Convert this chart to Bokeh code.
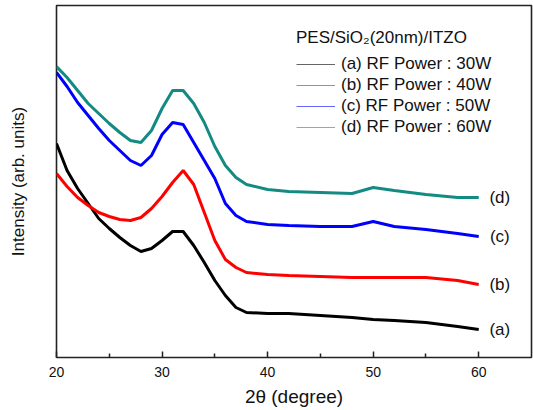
from bokeh.plotting import figure
from bokeh.models import ColumnDataSource, Legend, LegendItem, FixedTicker, Range1d
from bokeh.core.properties import value
from bokeh.embed import file_html
from bokeh.resources import INLINE

# 2-theta positions (degree) at which the curves were read
two_theta = [20, 21, 22, 23, 24, 25, 26, 27, 28, 29, 30, 31, 32, 33, 34, 35,
             36, 37, 38, 40, 42, 45, 48, 50, 52, 55, 58, 60]

# intensities (arbitrary units, stacked offsets as in the figure)
intensity_a = [214, 187, 169, 154, 139, 129, 120, 112, 106, 109, 117, 126, 126, 112,
               95, 77, 62, 50, 45, 44, 44, 42, 40, 38, 37, 35, 31, 28]
intensity_b = [184, 171, 160, 152, 145, 141, 138, 137, 140, 149, 161, 175, 187, 173,
               145, 117, 98, 90, 85, 83, 82, 81, 80, 80, 80, 80, 77, 73]
intensity_c = [285, 271, 255, 242, 229, 217, 207, 197, 192, 202, 223, 235, 233, 215,
               197, 179, 154, 142, 136, 133, 132, 131, 131, 136, 131, 128, 124, 121]
intensity_d = [291, 280, 267, 254, 244, 234, 225, 217, 215, 227, 249, 267, 267, 254,
               235, 211, 192, 180, 173, 168, 166, 165, 164, 170, 167, 163, 160, 160]

series_labels = ["(a) RF Power : 30W", "(b) RF Power : 40W",
                 "(c) RF Power : 50W", "(d) RF Power : 60W"]
curve_tags = ["(a)", "(b)", "(c)", "(d)"]
series_colors = ["#000000", "#ff0000", "#0000ff", "#138a82"]
legend_title = "PES/SiO\u2082(20nm)/ITZO"
x_major_ticks = [20, 30, 40, 50, 60]
x_minor_ticks = [25, 35, 45, 55]

FONT = "Liberation Sans"
NAN = float("nan")

p = figure(frame_width=475, frame_height=352,
           x_range=Range1d(20, 65), y_range=Range1d(0, 352),
           output_backend="svg", toolbar_location=None,
           min_border_left=56, min_border_right=2, min_border_top=5, min_border_bottom=52,
           background_fill_color="white", border_fill_color="white")

p.xgrid.visible = False
p.ygrid.visible = False
p.outline_line_color = "#222222"
p.outline_line_width = 1.6
p.outline_line_alpha = 1.0

all_series = [intensity_a, intensity_b, intensity_c, intensity_d]
legend_items = []
for ys, col, lab in zip(all_series, series_colors, series_labels):
    src = ColumnDataSource(dict(x=two_theta, y=ys))
    p.line("x", "y", source=src, line_color=col, line_width=3)
    # thin stand-in renderer (no visible data) used only for the legend swatch
    dummy = p.line(x=[NAN, NAN], y=[NAN, NAN], line_color=col, line_width=1.2, line_alpha=0.6)
    legend_items.append(LegendItem(label=lab, renderers=[dummy]))

# curve tags placed right of each curve's end
tag_src = ColumnDataSource(dict(
    x=[two_theta[-1] + 2.0] * 4,
    y=[s[-1] for s in all_series],
    t=curve_tags))
p.text("x", "y", text="t", source=tag_src, text_font=value(FONT),
       text_font_size="17px", text_align="center", text_baseline="middle",
       text_color="#111111")

legend = Legend(items=legend_items, location=(240, 220),
                title=legend_title, title_text_font=FONT, title_text_font_size="17px",
                title_text_font_style="normal", title_text_color="#111111", title_standoff=6,
                label_text_font=FONT, label_text_font_size="17px", label_text_color="#111111",
                glyph_width=39, glyph_height=20, label_height=20, label_standoff=6,
                spacing=1, padding=0, margin=0,
                border_line_color=None, background_fill_alpha=0)
p.add_layout(legend)

# x axis
xa = p.xaxis[0]
xa.ticker = FixedTicker(ticks=x_major_ticks, minor_ticks=x_minor_ticks)
xa.axis_label = "2\u03b8 (degree)"
xa.axis_label_text_font = FONT
xa.axis_label_text_font_size = "19px"
xa.axis_label_text_font_style = "normal"
xa.axis_label_text_color = "#111111"
xa.axis_label_standoff = 6
xa.major_label_text_font = FONT
xa.major_label_text_font_size = "14px"
xa.major_label_text_color = "#111111"
xa.major_label_standoff = 9
xa.axis_line_color = None
xa.major_tick_in = 6
xa.major_tick_out = 0
xa.minor_tick_in = 4
xa.minor_tick_out = 0
xa.major_tick_line_color = "#222222"
xa.major_tick_line_width = 1.5
xa.minor_tick_line_color = "#222222"
xa.minor_tick_line_width = 1.5

# y axis: label only
ya = p.yaxis[0]
ya.ticker = FixedTicker(ticks=[])
ya.axis_label = "Intensity (arb. units)"
ya.axis_label_text_font = FONT
ya.axis_label_text_font_size = "17px"
ya.axis_label_text_font_style = "normal"
ya.axis_label_text_color = "#111111"
ya.axis_label_standoff = 29
ya.axis_line_color = None
ya.major_tick_line_color = None
ya.minor_tick_line_color = None
ya.major_label_text_font_size = "0px"
ya.major_label_standoff = 0

open("out.html", "w").write(file_html(p, INLINE))
